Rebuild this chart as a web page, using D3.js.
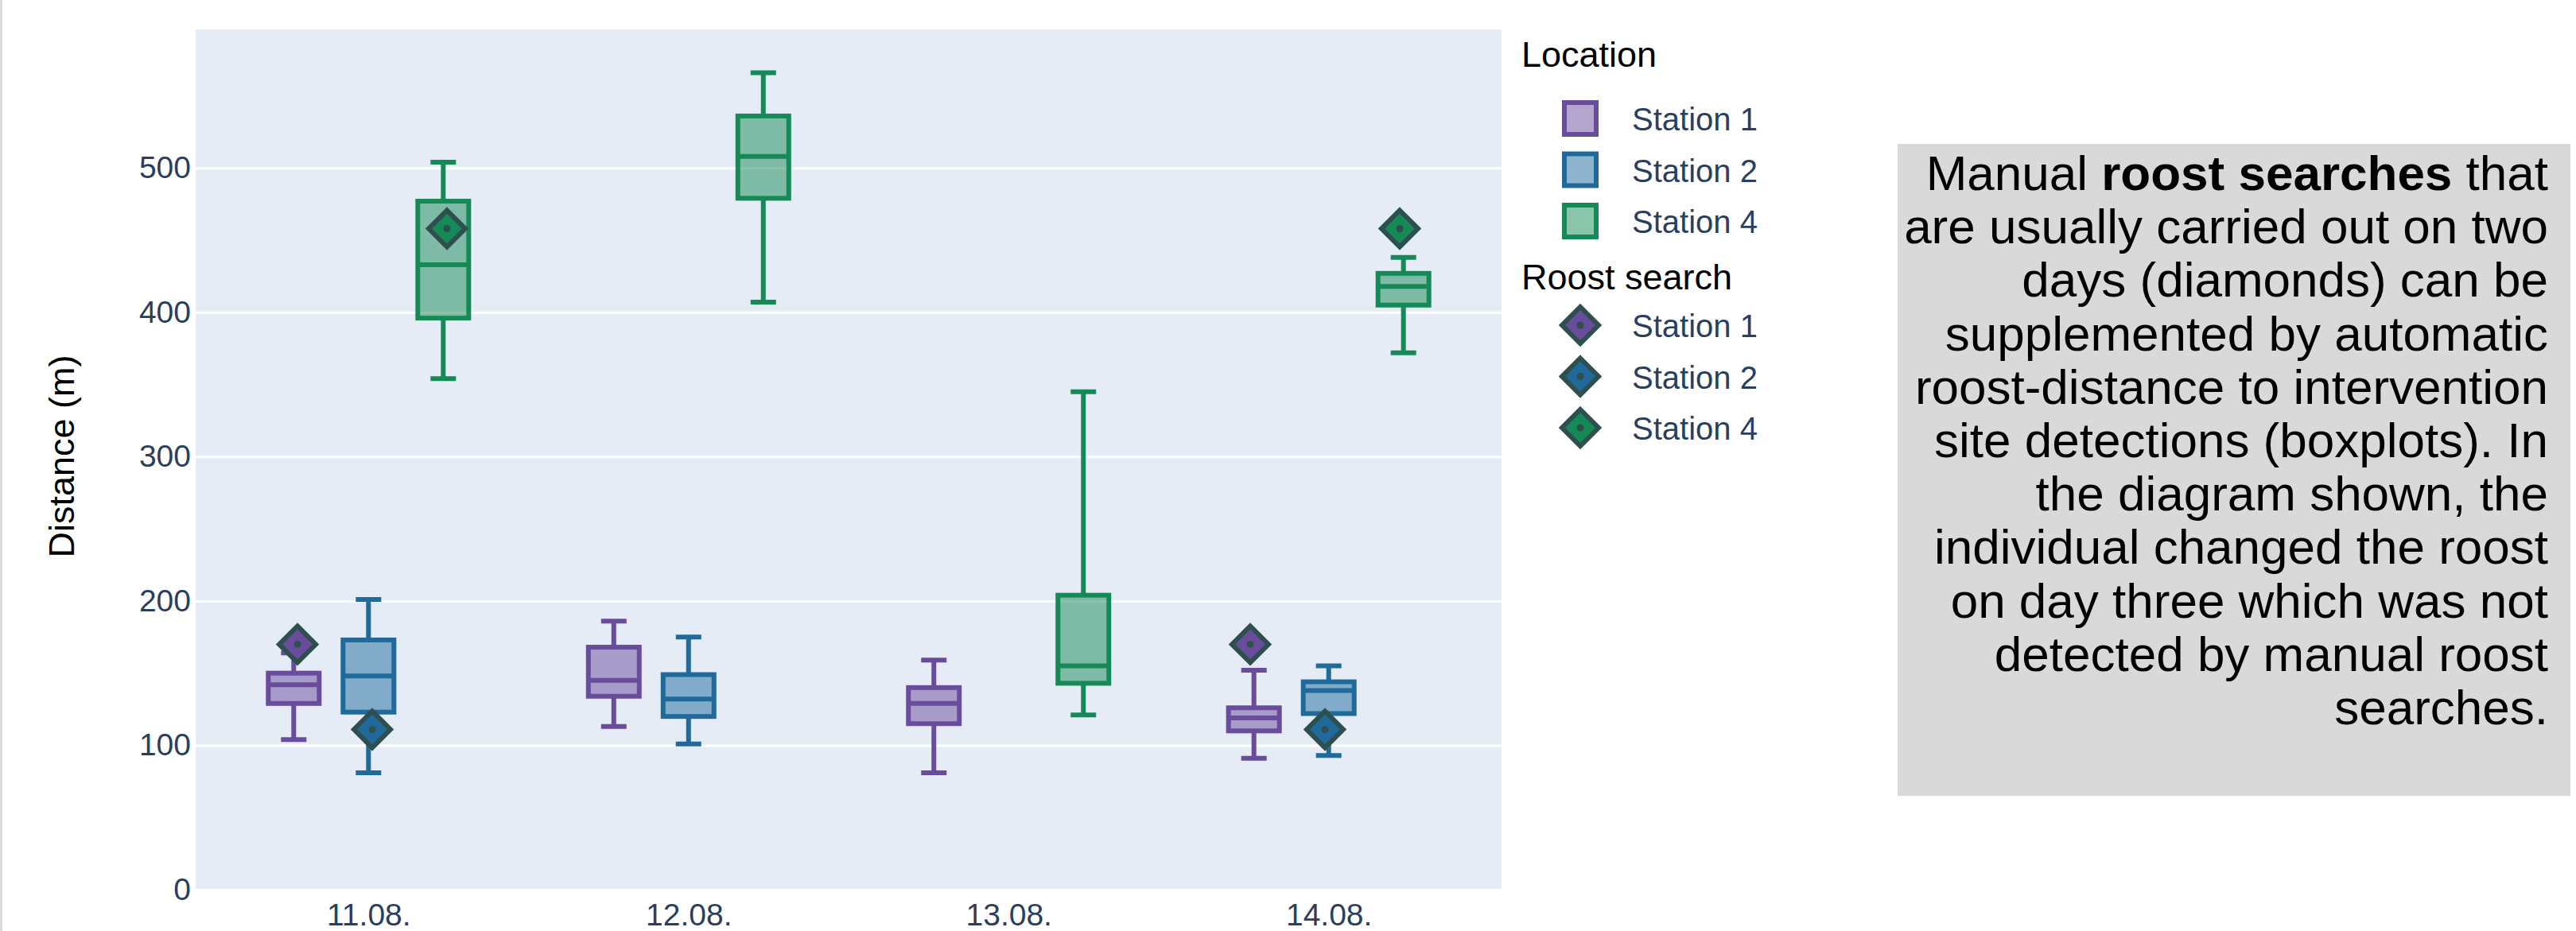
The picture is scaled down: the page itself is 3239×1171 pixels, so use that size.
<!DOCTYPE html>
<html>
<head>
<meta charset="utf-8">
<script src="https://cdn.jsdelivr.net/npm/d3@7"></script>
<style>
  body { margin: 0; background: #fff; }
  text { font-family: "Liberation Sans", Arial, sans-serif; }
</style>
</head>
<body>
<svg id="chart" width="3239" height="1171"></svg>
<script>
// days on the x axis
var categories = ["11.08.", "12.08.", "13.08.", "14.08."];
var stations = ["Station 1", "Station 2", "Station 4"];
var yTicks = [0, 100, 200, 300, 400, 500];

// box stats per day: [lower whisker, q1, median, q3, upper whisker]
var station1Boxes = [
  [104, 129, 142, 150, 164],
  [113, 134, 145, 168, 186],
  [81, 115, 129, 140, 159],
  [91, 110, 119, 126, 152]
];
var station2Boxes = [
  [81, 123, 148, 173, 201],
  [101, 120, 132, 149, 175],
  null,
  [93, 122, 138, 144, 155]
];
var station4Boxes = [
  [354, 396, 433, 477, 504],
  [407, 479, 508, 536, 566],
  [121, 143, 155, 204, 345],
  [372, 405, 418, 427, 438]
];

// manual roost searches (diamonds), null = no search that day
var station1Roost = [170, null, null, 170];
var station2Roost = [111, null, null, 111];
var station4Roost = [458, null, null, 458];

var colors = ["#6a4c9c", "#1f6a9b", "#168a56"];
var diamondLine = "#2f4f4f";

var noteLines = [
  [["Manual ", false], ["roost searches", true], [" that", false]],
  [["are usually carried out on two", false]],
  [["days (diamonds) can be", false]],
  [["supplemented by automatic", false]],
  [["roost-distance to intervention", false]],
  [["site detections (boxplots). In", false]],
  [["the diagram shown, the", false]],
  [["individual changed the roost", false]],
  [["on day three which was not", false]],
  [["detected by manual roost", false]],
  [["searches.", false]]
];

var boxes = [station1Boxes, station2Boxes, station4Boxes];
var roosts = [station1Roost, station2Roost, station4Roost];

var plot = {left: 246, right: 1888, top: 37, bottom: 1119};

var svg = d3.select("#chart");

// thin grey frame line at the far left
svg.append("rect")
    .attr("x", 0).attr("y", 0)
    .attr("width", 3).attr("height", 1171)
    .attr("fill", "#dcdcdc");

svg.append("rect")
    .attr("x", plot.left)
    .attr("y", plot.top)
    .attr("width", plot.right - plot.left)
    .attr("height", plot.bottom - plot.top)
    .attr("fill", "#e5ecf6");

var x = d3.scalePoint()
    .domain(categories)
    .range([plot.left, plot.right])
    .padding(0.54);

// the diamonds sit on a slightly narrower spacing than the boxes
var xRoost = d3.scalePoint()
    .domain(categories)
    .range([plot.left, plot.right])
    .padding(0.556);

var xGroup = d3.scaleBand()
    .domain(stations)
    .range([-141, 141]);

var y = d3.scaleLinear()
    .domain([0, 596])
    .range([plot.bottom, plot.top]);

var yAxis = svg.append("g")
    .attr("transform", `translate(${plot.left},0)`)
    .call(d3.axisLeft(y)
      .tickValues(yTicks)
      .tickSize(-(plot.right - plot.left))
      .tickPadding(6)
      .tickFormat(d3.format("d")));
yAxis.select(".domain").remove();
yAxis.selectAll(".tick line")
    .attr("stroke", "#ffffff")
    .attr("stroke-width", 3);
yAxis.selectAll(".tick text")
    .attr("fill", "#2a3f5f")
    .attr("font-size", 39)
    .style("font-family", "'Liberation Sans', Arial, sans-serif");

var xAxis = svg.append("g")
    .attr("transform", `translate(0,${plot.bottom})`)
    .call(d3.axisBottom(x).tickSize(0).tickPadding(17));
xAxis.select(".domain").remove();
xAxis.selectAll(".tick text")
    .attr("fill", "#2a3f5f")
    .attr("font-size", 39)
    .attr("dy", "0.71em")
    .style("font-family", "'Liberation Sans', Arial, sans-serif");

svg.append("text")
    .attr("transform", "translate(93,574) rotate(-90)")
    .attr("text-anchor", "middle")
    .attr("font-size", 45)
    .attr("fill", "#000")
    .text("Distance (m)");

// boxplots
var boxW = 64;
var capW = 32;
var sw = 6;

stations.forEach(function(st, si) {
  var rows = categories.map(function(c, i) {
    return {cat: c, s: boxes[si][i]};
  }).filter(function(d) { return d.s != null; });

  var g = svg.append("g")
      .attr("stroke", colors[si])
      .attr("stroke-width", sw)
    .selectAll("g")
    .data(rows)
    .join("g")
      .attr("transform", d => `translate(${x(d.cat) + xGroup(st) + xGroup.bandwidth() / 2},0)`);

  g.append("line")
      .attr("x1", 0).attr("x2", 0)
      .attr("y1", d => y(d.s[3])).attr("y2", d => y(d.s[4]));
  g.append("line")
      .attr("x1", 0).attr("x2", 0)
      .attr("y1", d => y(d.s[1])).attr("y2", d => y(d.s[0]));
  g.append("line")
      .attr("x1", -capW / 2).attr("x2", capW / 2)
      .attr("y1", d => y(d.s[4])).attr("y2", d => y(d.s[4]));
  g.append("line")
      .attr("x1", -capW / 2).attr("x2", capW / 2)
      .attr("y1", d => y(d.s[0])).attr("y2", d => y(d.s[0]));
  g.append("rect")
      .attr("x", -boxW / 2)
      .attr("width", boxW)
      .attr("y", d => y(d.s[3]))
      .attr("height", d => y(d.s[1]) - y(d.s[3]))
      .attr("fill", colors[si])
      .attr("fill-opacity", 0.5);
  g.append("line")
      .attr("x1", -boxW / 2).attr("x2", boxW / 2)
      .attr("y1", d => y(d.s[2])).attr("y2", d => y(d.s[2]));
});

// diamond-dot markers
function diamond(r) {
  return `M0,${-r}L${r},0L0,${r}L${-r},0Z`;
}

function drawDiamond(sel, color) {
  sel.append("path")
      .attr("d", diamond(23))
      .attr("fill", color)
      .attr("stroke", diamondLine)
      .attr("stroke-width", 6)
      .attr("stroke-linejoin", "miter");
  sel.append("circle")
      .attr("r", 4.5)
      .attr("fill", diamondLine);
}

stations.forEach(function(st, si) {
  var pts = categories.map(function(c, i) {
    return {cat: c, v: roosts[si][i]};
  }).filter(function(d) { return d.v != null; });

  svg.append("g")
    .selectAll("g")
    .data(pts)
    .join("g")
      .attr("transform", d => `translate(${xRoost(d.cat) + xGroup(st) + xGroup.bandwidth() / 2},${y(d.v)})`)
      .each(function() { drawDiamond(d3.select(this), colors[si]); });
});

// legend
var legend = svg.append("g").attr("transform", "translate(1913,0)");

legend.append("text")
    .attr("x", 0).attr("y", 84)
    .attr("font-size", 45)
    .attr("fill", "#000")
    .text("Location");

var boxItems = legend.selectAll("g.box")
    .data(stations)
    .join("g")
      .attr("class", "box")
      .attr("transform", (d, i) => `translate(0,${149 + i * 64.5})`);
boxItems.append("rect")
    .attr("x", 54).attr("y", -20)
    .attr("width", 40).attr("height", 40)
    .attr("fill", (d, i) => colors[i])
    .attr("fill-opacity", 0.5)
    .attr("stroke", (d, i) => colors[i])
    .attr("stroke-width", 6);
boxItems.append("text")
    .attr("x", 139).attr("y", 15)
    .attr("font-size", 40)
    .attr("fill", "#2a3f5f")
    .text(d => d);

legend.append("text")
    .attr("x", 0).attr("y", 364)
    .attr("font-size", 45)
    .attr("fill", "#000")
    .text("Roost search");

var diaItems = legend.selectAll("g.dia")
    .data(stations)
    .join("g")
      .attr("class", "dia")
      .attr("transform", (d, i) => `translate(0,${409 + i * 64.5})`);
diaItems.each(function(d, i) {
  var g = d3.select(this).append("g").attr("transform", "translate(74,0)");
  drawDiamond(g, colors[i]);
});
diaItems.append("text")
    .attr("x", 139).attr("y", 15)
    .attr("font-size", 40)
    .attr("fill", "#2a3f5f")
    .text(d => d);

// note box
svg.append("rect")
    .attr("x", 2386).attr("y", 181)
    .attr("width", 846).attr("height", 820)
    .attr("fill", "#d9d9d9");

var note = svg.append("text")
    .attr("text-anchor", "end")
    .attr("font-size", 62)
    .attr("fill", "#000");

noteLines.forEach(function(parts, i) {
  var line = note.append("tspan")
      .attr("x", 3204)
      .attr("y", 239 + i * 67.2);
  parts.forEach(function(p) {
    line.append("tspan")
        .attr("font-weight", p[1] ? "bold" : "normal")
        .text(p[0]);
  });
});
</script>
</body>
</html>
